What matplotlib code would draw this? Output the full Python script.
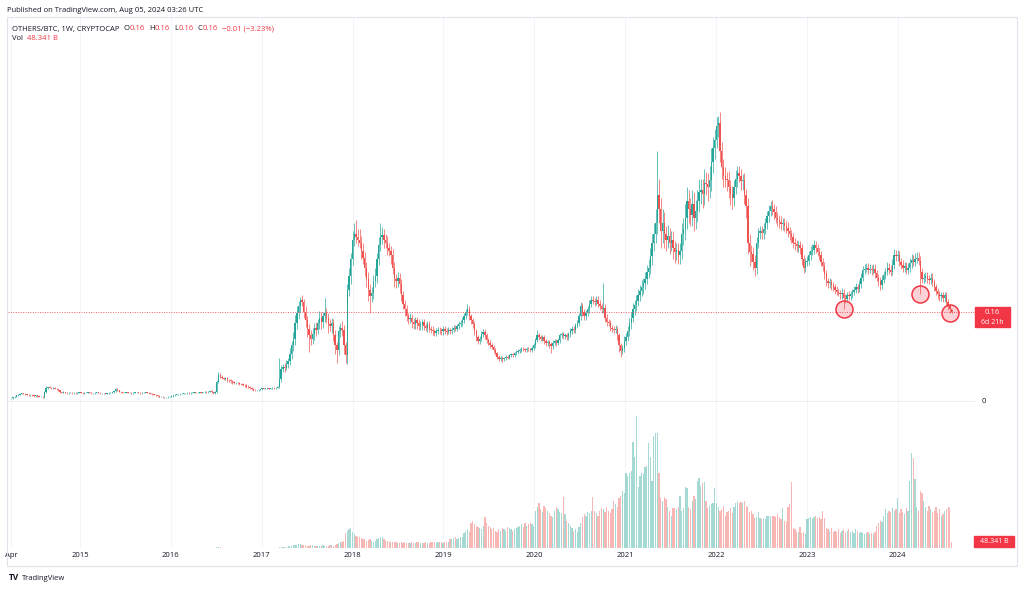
import matplotlib
matplotlib.use("Agg")
import matplotlib.pyplot as plt
from matplotlib.patches import Rectangle
from matplotlib.transforms import IdentityTransform
import numpy as np
import pandas as pd

plt.rcParams["font.family"] = ["Open Sans", "DejaVu Sans"]

# OTHERS/BTC weekly candles (Mondays, 2014-03-31 .. 2024-08-05)
# closes and wick lengths in thousandths, volume in billions
c2014 = [5, 7, 8, 10, 11, 13, 14, 13, 12, 11, 10, 11, 10, 9, 10, 9, 8, 8, 7, 16,
         24, 25, 24, 23, 24, 22, 21, 19, 16, 15, 16, 15, 14, 15, 15, 14, 15, 14, 15, 16]
c2015 = [15, 14, 15, 15, 16, 15, 14, 14, 15, 16, 15, 14, 14, 14, 13, 14, 15, 15, 16, 18,
         21, 19, 17, 16, 15, 15, 16, 15, 15, 14, 15, 16, 16, 15, 14, 15, 15, 16, 15, 14,
         13, 12, 11, 10, 9, 8, 8, 7, 7, 7, 8, 8]
c2016 = [9, 10, 11, 12, 12, 13, 13, 14, 14, 15, 14, 15, 15, 16, 15, 15, 16, 15, 16, 17,
         16, 17, 18, 16, 14, 16, 34, 47, 44, 42, 40, 41, 38, 37, 36, 34, 33, 33, 32, 31,
         30, 29, 28, 26, 25, 23, 22, 20, 19, 19, 20, 21]
c2017 = [23, 22, 23, 23, 22, 23, 24, 23, 24, 25, 40, 58, 62, 60, 66, 72, 85, 100, 112, 140,
         158, 170, 182, 178, 160, 145, 130, 118, 112, 120, 132, 128, 140, 150, 142, 152, 158, 150, 138, 135,
         140, 118, 100, 92, 125, 132, 128, 100, 82, 200, 225, 255]
c2018 = [290, 300, 295, 290, 285, 270, 258, 240, 220, 200, 188, 195, 215, 225, 255, 280, 295, 298, 290, 285,
         275, 270, 262, 240, 220, 215, 222, 210, 190, 175, 165, 152, 148, 150, 142, 138, 145, 140, 135, 138,
         142, 135, 132, 138, 130, 128, 125, 122, 126, 128, 127, 125, 130]
c2019 = [126, 124, 128, 125, 128, 132, 130, 134, 138, 140, 145, 152, 160, 165, 152, 145, 138, 125, 115, 108,
         112, 120, 124, 118, 110, 105, 100, 97, 92, 86, 80, 76, 78, 75, 77, 79, 78, 82, 84, 83,
         86, 88, 90, 92, 94, 93, 92, 94, 93, 92, 95, 100]
c2020 = [110, 118, 115, 112, 115, 108, 104, 106, 102, 98, 105, 108, 104, 110, 118, 120, 116, 118, 115, 120,
         126, 130, 128, 136, 140, 152, 170, 160, 152, 158, 165, 175, 182, 180, 178, 182, 175, 170, 165, 168,
         150, 142, 140, 132, 130, 128, 130, 118, 100, 90, 95, 108]
c2021 = [115, 125, 140, 150, 165, 172, 180, 190, 198, 205, 212, 220, 232, 240, 260, 285, 300, 320, 370, 345,
         305, 320, 300, 290, 296, 285, 290, 275, 268, 272, 262, 270, 300, 310, 330, 360, 345, 335, 355, 330,
         342, 360, 375, 380, 372, 392, 390, 385, 397, 430, 455, 470]
c2022 = [495, 500, 450, 420, 405, 400, 398, 385, 372, 365, 385, 400, 410, 405, 395, 398, 370, 350, 285, 268,
         265, 250, 240, 285, 302, 305, 302, 310, 320, 332, 342, 350, 345, 340, 330, 325, 322, 318, 320, 315,
         312, 305, 300, 295, 285, 282, 278, 280, 275, 255, 240, 250]
c2023 = [252, 262, 270, 272, 280, 275, 268, 262, 250, 242, 228, 215, 212, 214, 208, 205, 200, 196, 194, 192,
         195, 186, 184, 190, 188, 192, 196, 200, 205, 202, 210, 222, 235, 238, 240, 236, 238, 235, 238, 230,
         222, 215, 208, 218, 226, 232, 240, 236, 232, 245, 262, 260]
c2024 = [262, 250, 245, 240, 242, 236, 240, 248, 254, 250, 256, 258, 252, 232, 220, 222, 224, 220, 218, 222,
         214, 205, 198, 192, 188, 190, 186, 190, 178, 170, 165, 160]

u2014 = [1, 1, 1, 1, 1, 2, 1, 1, 1, 1, 1, 1, 1, 1, 1, 1, 1, 1, 1, 2,
         3, 2, 2, 1, 2, 1, 1, 1, 1, 1, 2, 1, 1, 1, 1, 1, 1, 1, 1, 1]
u2015 = [1, 1, 1, 1, 1, 1, 1, 1, 1, 1, 1, 1, 1, 1, 1, 1, 1, 1, 1, 2,
         3, 2, 1, 1, 1, 1, 1, 1, 1, 1, 1, 1, 1, 1, 1, 1, 1, 1, 1, 1,
         1, 1, 1, 1, 1, 1, 1, 1, 1, 1, 1, 1]
u2016 = [1, 1, 1, 1, 1, 1, 1, 1, 1, 1, 1, 1, 1, 1, 1, 1, 1, 1, 1, 1,
         1, 1, 1, 1, 1, 2, 4, 5, 3, 3, 2, 2, 2, 2, 2, 2, 2, 2, 2, 2,
         2, 2, 2, 2, 2, 2, 2, 1, 1, 1, 1, 1]
u2017 = [1, 1, 1, 2, 1, 1, 2, 1, 1, 2, 37, 6, 5, 6, 8, 6, 10, 8, 12, 15,
         12, 10, 5, 8, 6, 10, 8, 8, 10, 12, 8, 10, 8, 12, 10, 8, 27, 10, 8, 10,
         10, 8, 10, 6, 10, 8, 12, 8, 6, 10, 15, 12]
u2018 = [15, 20, 25, 15, 20, 12, 15, 10, 10, 12, 10, 10, 12, 15, 12, 15, 25, 15, 12, 10,
         12, 10, 8, 12, 10, 8, 10, 8, 10, 8, 6, 8, 6, 8, 6, 8, 6, 6, 8, 6,
         5, 6, 5, 6, 5, 5, 6, 5, 5, 5, 5, 5, 5]
u2019 = [4, 5, 5, 4, 5, 5, 4, 5, 5, 5, 6, 6, 6, 9, 6, 5, 5, 5, 5, 4,
         5, 6, 5, 5, 4, 4, 4, 4, 3, 3, 3, 3, 3, 3, 3, 3, 3, 3, 3, 3,
         3, 3, 3, 3, 3, 3, 3, 3, 3, 3, 3, 4]
u2020 = [4, 10, 5, 4, 4, 4, 4, 4, 4, 4, 4, 4, 4, 4, 4, 4, 4, 4, 4, 4,
         5, 5, 5, 5, 6, 6, 8, 6, 6, 6, 6, 6, 6, 6, 6, 6, 6, 6, 6, 44,
         6, 6, 5, 5, 5, 5, 6, 5, 5, 4, 6, 8]
u2021 = [8, 10, 10, 10, 12, 10, 10, 12, 10, 12, 10, 12, 12, 15, 15, 15, 20, 25, 80, 30,
         20, 25, 20, 15, 20, 15, 15, 15, 12, 12, 12, 15, 20, 20, 25, 25, 20, 20, 25, 20,
         20, 20, 25, 20, 20, 25, 20, 20, 25, 25, 20, 20]
u2022 = [15, 12, 20, 15, 15, 15, 12, 15, 12, 15, 12, 15, 12, 12, 12, 10, 12, 12, 15, 15,
         12, 12, 12, 10, 10, 10, 10, 10, 10, 10, 10, 10, 12, 10, 10, 10, 10, 10, 10, 10,
         8, 10, 8, 8, 8, 8, 8, 8, 8, 8, 8, 8]
u2023 = [8, 8, 8, 10, 10, 8, 8, 8, 8, 8, 8, 8, 6, 8, 6, 6, 6, 6, 6, 6,
         8, 6, 6, 6, 8, 6, 6, 6, 8, 6, 8, 8, 8, 8, 8, 8, 8, 6, 8, 8,
         6, 6, 8, 8, 8, 8, 10, 8, 8, 10, 12, 10]
u2024 = [10, 8, 8, 8, 8, 8, 8, 10, 10, 8, 10, 10, 10, 8, 8, 8, 8, 8, 6, 8,
         8, 6, 6, 6, 6, 6, 6, 6, 6, 6, 5, 1]

d2014 = [1, 1, 1, 1, 1, 1, 1, 1, 1, 1, 1, 1, 1, 1, 1, 1, 1, 1, 1, 1,
         1, 2, 1, 1, 1, 1, 2, 1, 1, 1, 1, 1, 1, 1, 1, 1, 1, 1, 1, 1]
d2015 = [1, 1, 1, 1, 1, 1, 1, 1, 1, 1, 1, 1, 1, 1, 1, 1, 1, 1, 1, 1,
         1, 1, 1, 1, 1, 1, 1, 1, 1, 1, 1, 1, 1, 1, 1, 1, 1, 1, 1, 1,
         1, 1, 1, 1, 1, 1, 1, 1, 1, 1, 1, 1]
d2016 = [1, 1, 1, 1, 1, 1, 1, 1, 1, 1, 1, 1, 1, 1, 1, 1, 1, 1, 1, 1,
         1, 1, 1, 1, 2, 1, 1, 2, 3, 3, 3, 3, 3, 3, 3, 3, 3, 2, 2, 2,
         2, 2, 2, 2, 2, 2, 2, 2, 1, 1, 1, 1]
d2017 = [1, 1, 1, 1, 1, 1, 1, 1, 1, 1, 2, 5, 6, 8, 5, 6, 8, 10, 10, 12,
         10, 10, 10, 8, 10, 12, 15, 30, 12, 10, 10, 12, 8, 10, 12, 10, 10, 10, 15, 10,
         12, 10, 15, 24, 10, 10, 12, 15, 14, 15, 12, 15]
d2018 = [10, 12, 10, 12, 10, 15, 12, 15, 15, 20, 30, 10, 12, 10, 12, 10, 10, 12, 15, 10,
         12, 10, 15, 12, 15, 12, 10, 15, 10, 10, 12, 8, 10, 8, 10, 8, 8, 10, 8, 8,
         10, 8, 6, 8, 6, 6, 6, 6, 6, 6, 6, 6, 6]
d2019 = [5, 5, 4, 5, 5, 4, 5, 5, 4, 5, 5, 5, 5, 5, 6, 6, 6, 6, 8, 6,
         5, 5, 5, 6, 5, 5, 5, 4, 5, 4, 4, 4, 4, 4, 3, 3, 3, 3, 3, 3,
         3, 3, 3, 3, 3, 3, 3, 3, 3, 3, 4, 4]
d2020 = [4, 4, 5, 4, 4, 5, 5, 5, 6, 12, 5, 5, 5, 4, 5, 5, 5, 5, 5, 5,
         5, 5, 5, 5, 5, 6, 6, 8, 6, 6, 6, 6, 6, 6, 8, 6, 6, 6, 6, 6,
         8, 8, 6, 6, 6, 6, 6, 8, 12, 10, 6, 6]
d2021 = [8, 8, 8, 10, 8, 10, 10, 10, 10, 10, 12, 10, 10, 10, 12, 15, 15, 15, 20, 25,
         30, 20, 25, 20, 15, 20, 15, 20, 20, 15, 15, 15, 15, 20, 20, 20, 25, 20, 20, 25,
         20, 20, 20, 20, 25, 20, 20, 25, 20, 20, 20, 20]
d2022 = [15, 20, 20, 20, 20, 15, 20, 20, 20, 20, 15, 12, 15, 12, 15, 15, 15, 20, 20, 25,
         15, 15, 15, 12, 10, 10, 10, 10, 10, 10, 10, 10, 10, 12, 10, 10, 10, 10, 10, 10,
         10, 10, 10, 10, 10, 10, 10, 10, 10, 10, 10, 8]
d2023 = [8, 8, 8, 8, 8, 8, 8, 8, 8, 8, 8, 8, 8, 8, 8, 8, 8, 6, 6, 8,
         8, 20, 8, 6, 6, 6, 6, 6, 6, 8, 6, 6, 6, 6, 6, 8, 6, 8, 6, 8,
         6, 8, 8, 6, 6, 6, 6, 8, 8, 6, 8, 8]
d2024 = [8, 8, 8, 8, 8, 8, 8, 8, 8, 8, 8, 8, 8, 40, 8, 8, 8, 8, 8, 8,
         8, 8, 8, 8, 8, 8, 8, 8, 8, 6, 6, 1]

v2014 = [2, 2, 2, 2, 2, 2, 2, 2, 2, 2, 2, 2, 2, 2, 2, 2, 2, 2, 2, 3,
         3, 3, 3, 2, 2, 2, 2, 2, 2, 2, 2, 2, 2, 2, 2, 2, 2, 2, 2, 2]
v2015 = [2, 2, 2, 2, 2, 2, 2, 2, 2, 2, 2, 2, 2, 2, 2, 2, 2, 2, 2, 3,
         3, 3, 2, 2, 2, 2, 2, 2, 2, 2, 2, 2, 2, 2, 2, 2, 2, 2, 2, 2,
         2, 2, 2, 2, 2, 2, 2, 2, 2, 2, 2, 2]
v2016 = [2, 2, 2, 2, 2, 2, 2, 2, 2, 2, 2, 2, 2, 2, 2, 2, 2, 2, 2, 2,
         2, 2, 2, 2, 2, 4, 6, 8, 5, 4, 3, 3, 3, 3, 3, 3, 3, 3, 3, 3,
         3, 3, 3, 3, 3, 2, 2, 2, 2, 2, 2, 2]
v2017 = [2, 2, 2, 2, 3, 3, 3, 3, 3, 4, 8, 10, 12, 10, 12, 14, 18, 20, 22, 25,
         28, 30, 30, 28, 25, 22, 20, 18, 22, 25, 20, 18, 16, 18, 20, 22, 18, 16, 20, 22,
         24, 20, 22, 30, 40, 45, 50, 60, 120, 140, 150, 160]
v2018 = [130, 110, 100, 90, 85, 80, 75, 70, 60, 65, 70, 55, 50, 60, 70, 80, 88, 85, 70, 60,
         55, 50, 48, 45, 48, 45, 42, 44, 46, 42, 45, 40, 42, 44, 46, 42, 40, 45, 48, 44,
         42, 40, 45, 44, 42, 46, 48, 45, 44, 46, 48, 45, 44]
v2019 = [46, 48, 50, 70, 75, 80, 85, 75, 80, 90, 85, 120, 140, 150, 130, 200, 220, 190, 180, 170,
         160, 150, 180, 250, 200, 180, 170, 150, 160, 140, 130, 150, 140, 160, 150, 140, 170, 160, 150, 140,
         150, 160, 170, 180, 190, 170, 200, 180, 190, 200, 190, 180]
v2020 = [300, 330, 360, 310, 290, 340, 320, 300, 280, 260, 250, 300, 330, 310, 290, 280, 410, 270, 220, 200,
         180, 160, 140, 150, 130, 170, 200, 250, 270, 260, 290, 280, 300, 410, 300, 280, 260, 300, 320, 310,
         290, 330, 300, 280, 310, 380, 350, 330, 400, 420, 460, 440]
v2021 = [600, 580, 600, 620, 850, 730, 1060, 490, 580, 600, 590, 650, 660, 840, 730, 540, 900, 920, 920, 600,
         400, 380, 410, 390, 330, 300, 260, 320, 320, 310, 330, 420, 300, 320, 490, 480, 330, 310, 380, 420,
         390, 540, 560, 500, 520, 530, 380, 320, 340, 350, 360, 480]
v2022 = [360, 330, 300, 310, 340, 260, 290, 300, 320, 280, 330, 360, 370, 360, 370, 360, 380, 340, 330, 290,
         300, 270, 240, 250, 290, 240, 230, 240, 230, 260, 260, 260, 260, 260, 250, 270, 250, 230, 320, 220,
         210, 330, 350, 530, 160, 150, 130, 130, 170, 120, 130, 110]
v2023 = [230, 240, 250, 230, 250, 260, 240, 250, 230, 300, 240, 160, 150, 140, 160, 130, 140, 130, 150, 120,
         140, 150, 130, 140, 150, 130, 140, 120, 150, 140, 120, 130, 120, 110, 120, 130, 110, 120, 110, 130,
         180, 200, 220, 210, 260, 310, 280, 300, 290, 320, 300, 310]
v2024 = [400, 280, 310, 290, 270, 320, 300, 540, 760, 720, 550, 330, 300, 460, 440, 380, 330, 300, 340, 310,
         290, 300, 330, 280, 310, 260, 270, 300, 310, 330, 320, 48.341]

tick_dates = ["2014-04-01", "2015-01-01", "2016-01-01", "2017-01-01", "2018-01-01", "2019-01-01",
              "2020-01-01", "2021-01-01", "2022-01-01", "2023-01-01", "2024-01-01"]
tick_labels = ["Apr", "2015", "2016", "2017", "2018", "2019", "2020", "2021", "2022", "2023", "2024"]
circled = ["2023-05-29", "2024-04-01", "2024-07-29"]

closes = np.array(c2014 + c2015 + c2016 + c2017 + c2018 + c2019 + c2020 + c2021 + c2022 + c2023 + c2024) / 1000
up_w = np.array(u2014 + u2015 + u2016 + u2017 + u2018 + u2019 + u2020 + u2021 + u2022 + u2023 + u2024) / 1000
dn_w = np.array(d2014 + d2015 + d2016 + d2017 + d2018 + d2019 + d2020 + d2021 + d2022 + d2023 + d2024) / 1000
volume = np.array(v2014 + v2015 + v2016 + v2017 + v2018 + v2019 + v2020 + v2021 + v2022 + v2023 + v2024)

dates = pd.date_range(end="2024-08-05", periods=len(closes), freq="W-MON")
opens = np.concatenate([[closes[0]], closes[:-1]])
highs = np.maximum(opens, closes) + up_w
lows = np.minimum(opens, closes) - dn_w
rising = closes >= opens

GREEN, RED = "#26a69a", "#ef5350"
LABEL_RED = "#f23645"
DARK = "#131722"
W, H = 1024, 590

fig = plt.figure(figsize=(W / 100, H / 100), dpi=100)
pane = [8 / W, 1 - 548 / H, (975 - 8) / W, (548 - 17) / H]
axv = fig.add_axes(pane)
ax = fig.add_axes(pane, sharex=axv)
ax.patch.set_visible(False)

ax.set_xlim(pd.Timestamp("2014-03-18"), pd.Timestamp("2024-11-07"))
ax.set_ylim(-0.2644, 0.6906)
axv.set_ylim(0, 4248)

for d in pd.to_datetime(tick_dates):
    axv.axvline(d, color="#f3f4f7", lw=0.7, zorder=0)
ax.axhline(0, color="#eceef2", lw=0.8, zorder=0)

# volume
vcol = np.where(rising, GREEN, RED)
axv.bar(dates, volume, width=5.0, color=vcol, alpha=0.42, linewidth=0)

# candles
ccol = np.where(rising, GREEN, RED)
ax.vlines(dates, lows, highs, colors=ccol, linewidth=0.7, alpha=0.7)
ax.bar(dates, np.abs(closes - opens), bottom=np.minimum(opens, closes),
       width=5.4, color=ccol, linewidth=0)

last = closes[-1]
ax.axhline(last, color=LABEL_RED, lw=0.7, ls=(0, (1, 1.5)), alpha=0.8)

idx = [dates.get_loc(pd.Timestamp(d)) for d in circled]
ax.scatter(dates[idx], lows[idx], s=150, facecolor=(0.95, 0.21, 0.27, 0.22),
           edgecolor=LABEL_RED, linewidth=1.1, zorder=5)

for a in (ax, axv):
    for s in a.spines.values():
        s.set_visible(False)
axv.set_yticks([])
axv.tick_params(axis="x", length=0, labelbottom=False)
ax.set_xticks(pd.to_datetime(tick_dates), tick_labels)
ax.tick_params(axis="x", length=0, pad=3.2, labelsize=5.5, labelcolor=DARK)
ax.yaxis.tick_right()
ax.set_yticks([0], ["0"])
ax.tick_params(axis="y", length=0, pad=5, labelsize=5.5, labelcolor=DARK)

# chart frame
fig.add_artist(Rectangle((7 / W, 1 - 566 / H), 1010 / W, 549 / H, transform=fig.transFigure,
                         fill=False, edgecolor="#e0e3eb", lw=0.8))

# price label on the right scale
yp = ax.transData.transform((0, last))[1]
fig.add_artist(Rectangle((975, yp - 15), 35, 20, transform=IdentityTransform(), color=LABEL_RED))
fig.text(992.5 / W, yp / H, f"{last:.2f}", color="white", ha="center", va="center", fontsize=5.5)
fig.text(992.5 / W, (yp - 10) / H, "6d 21h", color="white", ha="center", va="center", fontsize=5)

# volume label
yv = axv.transData.transform((0, volume[-1]))[1]
fig.add_artist(Rectangle((974, yv - 5.5), 40, 11, transform=IdentityTransform(), color=LABEL_RED))
fig.text(994 / W, yv / H, f"{volume[-1]:.3f} B", color="white", ha="center", va="center", fontsize=5)

renderer = fig.canvas.get_renderer()


def chain(x, y, parts, size=5.5):
    for s, col, gap in parts:
        t = fig.text(x / W, 1 - y / H, s, color=col, fontsize=size, ha="left", va="center")
        x += t.get_window_extent(renderer).width + gap


fig.text(7 / W, 1 - 10 / H, "Published on TradingView.com, Aug 05, 2024 03:26 UTC",
         color=DARK, fontsize=5.5, va="center")
chain(12, 29, [("OTHERS/BTC, 1W, CRYPTOCAP", DARK, 4),
               ("O", DARK, 0.3), ("0.16", LABEL_RED, 4),
               ("H", DARK, 0.3), ("0.16", LABEL_RED, 4),
               ("L", DARK, 0.3), ("0.16", LABEL_RED, 4),
               ("C", DARK, 0.3), ("0.16", LABEL_RED, 4),
               ("\u22120.01 (\u22123.23%)", LABEL_RED, 0)])
chain(12, 39, [("Vol", DARK, 4), ("48.341 B", LABEL_RED, 0)])

fig.text(9 / W, 1 - 578 / H, "TV", color=DARK, fontsize=6, fontweight="bold", va="center")
fig.text(22 / W, 1 - 578 / H, "TradingView", color=DARK, fontsize=5.5, va="center")

fig.savefig("out.png", dpi=100)
